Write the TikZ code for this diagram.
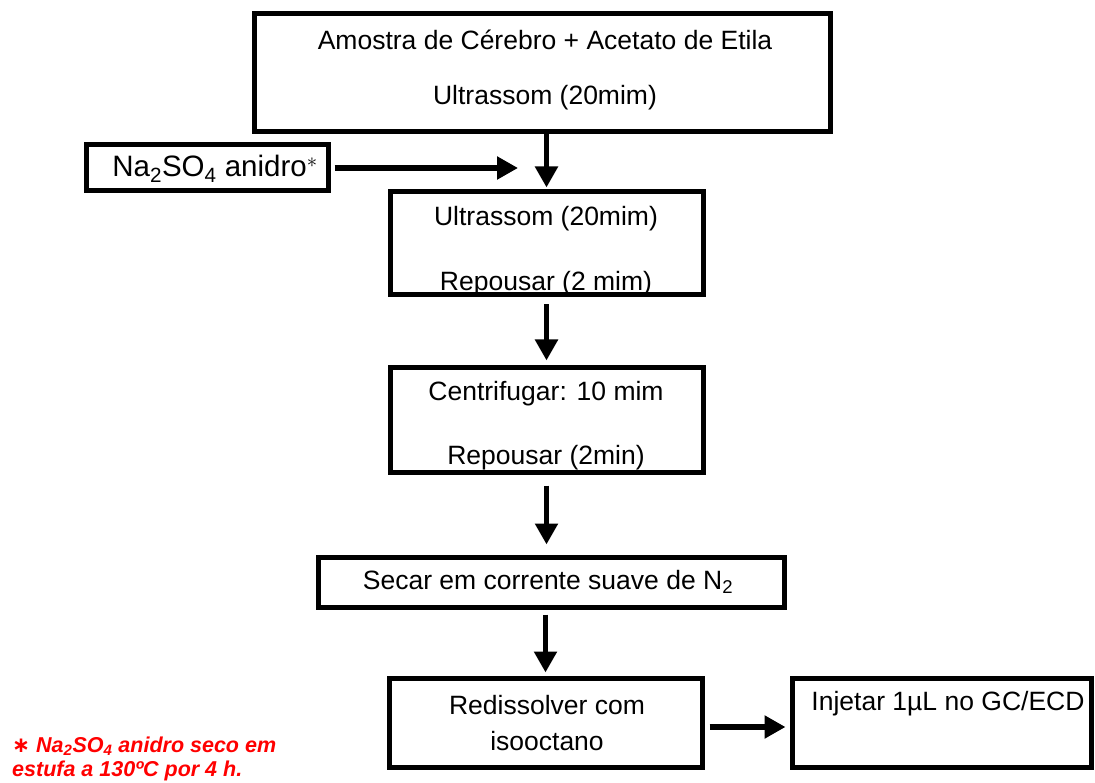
\documentclass[tikz,border=0pt]{standalone}
\usepackage{fontspec}
\setmainfont{Liberation Sans}
\newfontfamily\symfont{DejaVu Sans}
\usetikzlibrary{arrows.meta}
\begin{document}
\begin{tikzpicture}[x=1pt,y=-1pt,
  box/.style={draw,line width=5pt,inner sep=0pt,outer sep=0pt},
  txt/.style={inner sep=0pt,font=\fontsize{26.5}{30}\selectfont},
  arr/.style={line width=5.5pt,-{Triangle[width=22pt,length=21pt]}},
  note/.style={inner sep=0pt,anchor=base west,text=red,
    font=\fontsize{21.5}{24}\selectfont\bfseries\itshape}]
\useasboundingbox (0,0) rectangle (1095,783);

% process boxes
\node[box,minimum width=576pt,minimum height=118pt] (b1) at (542,73) {};
\node[box,minimum width=242pt,minimum height=46pt] (bna) at (207,168) {};
\node[box,minimum width=313pt,minimum height=103pt] (b2) at (546.5,243.5) {};
\node[box,minimum width=313pt,minimum height=104pt] (b3) at (546.5,420) {};
\node[box,minimum width=466pt,minimum height=50pt] (b4) at (551,582) {};
\node[box,minimum width=313pt,minimum height=89pt] (b5) at (545.5,722.5) {};
\node[box,minimum width=299pt,minimum height=89pt] (b6) at (941.5,722.5) {};

% box texts
\node[txt] (t1a) at (545,40) {Amostra de Cérebro + Acetato de Etila};
\node[txt] (t1b) at (545,98) {Ultrassom (20mim)};
\node[txt,font=\fontsize{29.5}{32}\selectfont] (tna) at (215,169) {Na\textsubscript{2}SO\textsubscript{4} anidro$^{\ast}$};
\node[txt] (t2a) at (546,219) {Ultrassom (20mim)};
\begin{scope}
  \clip ([shift={(2.5,2.5)}]b2.north west) rectangle ([shift={(-2.5,-2.5)}]b2.south east);
  \node[txt] (t2b) at (546,284) {Repousar (2 mim)};
\end{scope}
\node[txt] (t3a) at (546,394) {Centrifugar: 10 mim};
\begin{scope}
  \clip ([shift={(2.5,2.5)}]b3.north west) rectangle ([shift={(-2.5,-2.5)}]b3.south east);
  \node[txt] (t3b) at (546,458) {Repousar (2min)};
\end{scope}
\node[txt] (t4) at (548,582) {Secar em corrente suave de N\textsubscript{2}};
\node[txt] (t5a) at (547,705) {Redissolver com};
\node[txt] (t5b) at (547,741) {isooctano};
\node[txt] (t6) at (948,704) {Injetar 1µL no GC/ECD};

% footnote
\node[note] (n1) at (12,752) {{\symfont\bfseries ∗} Na\textsubscript{2}SO\textsubscript{4} anidro seco em};
\node[note] (n2) at (12,776) {estufa a 130ºC por 4 h.};

% connectors
\coordinate (join) at (518,168);
\draw[arr,shorten >=4.5pt] (b1.south -| b2.north) -- (b2.north);
\draw[arr,shorten <=6.5pt] (bna.east) -- (join);
\draw[arr,shorten <=9.5pt,shorten >=7.5pt] (b2.south) -- (b3.north);
\draw[arr,shorten <=13.5pt,shorten >=12.5pt] (b3.south) -- (b4.north -| b3.south);
\draw[arr,shorten <=7.5pt,shorten >=5.5pt] (b4.south -| b5.north) -- (b5.north);
\draw[arr,shorten <=7.5pt,shorten >=6.5pt] ([yshift=-4.5pt]b5.east) -- ([yshift=-4.5pt]b6.west);
\end{tikzpicture}
\end{document}
